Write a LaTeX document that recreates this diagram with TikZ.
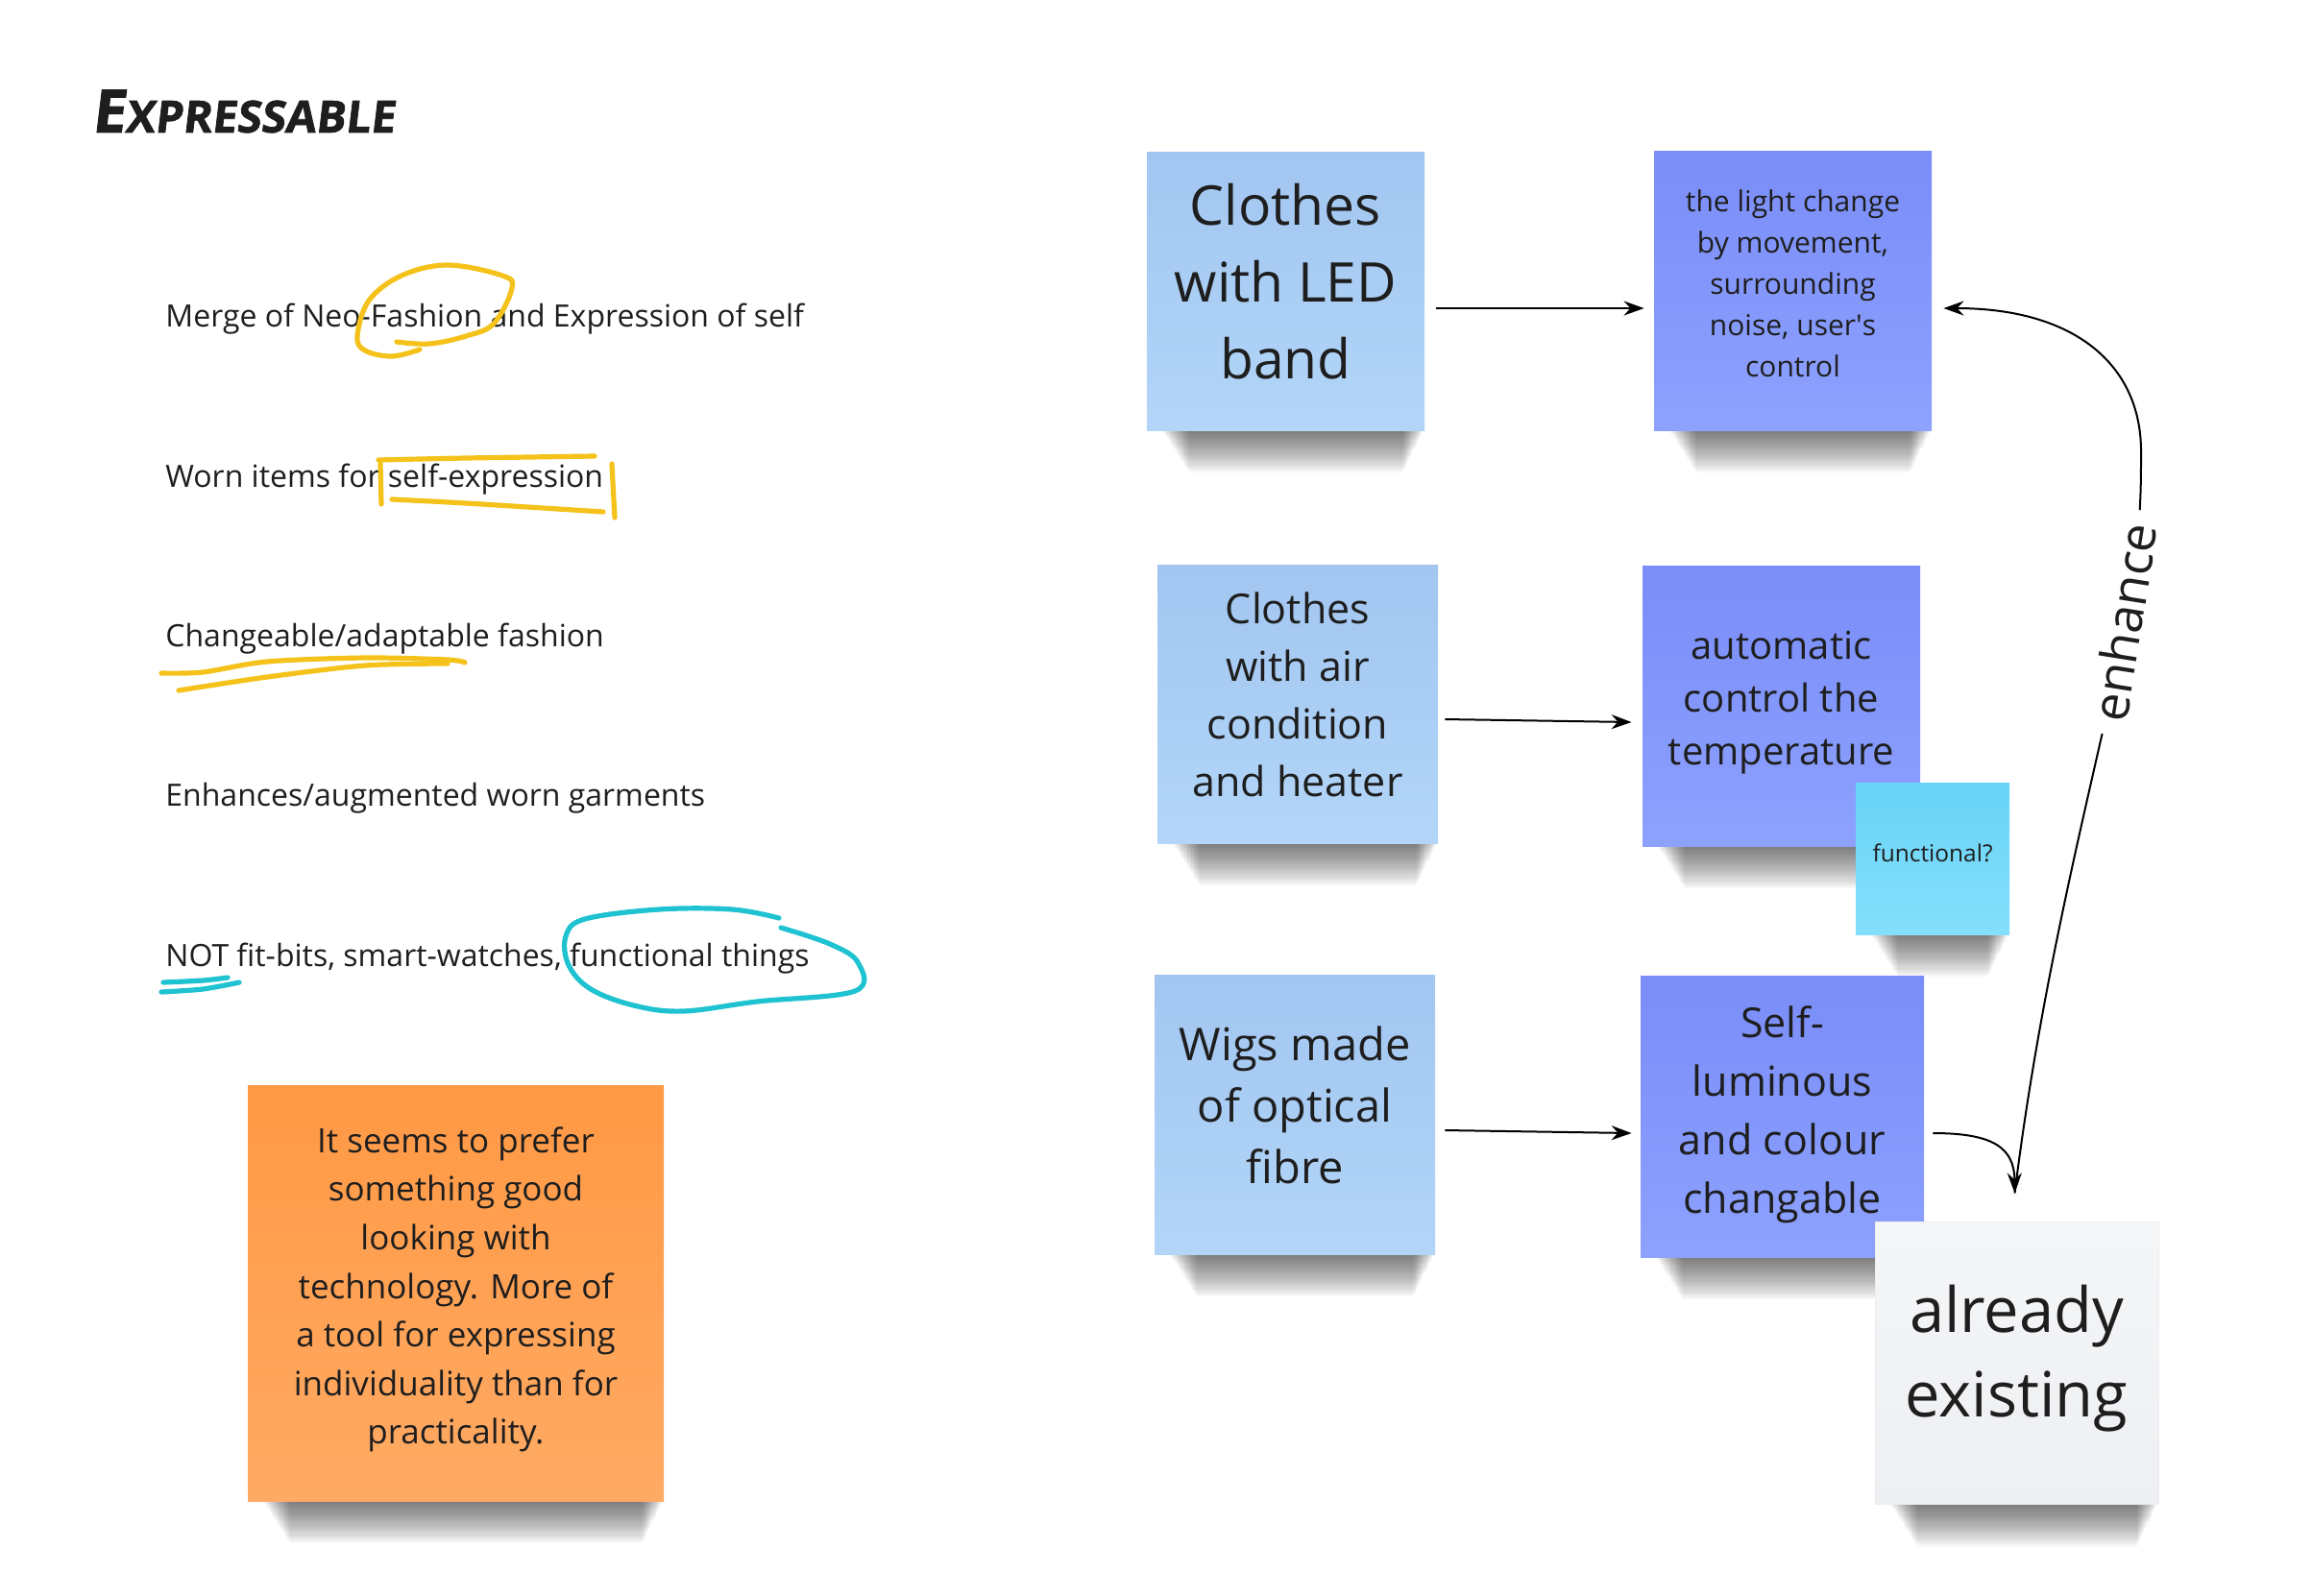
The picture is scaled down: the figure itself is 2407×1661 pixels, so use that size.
\documentclass[tikz,border=0pt]{standalone}
\usepackage{fontspec}
\setmainfont{Open Sans}
\newfontfamily\titlefont[FakeSlant=0.12,FakeBold=1.5]{Open Sans}
\usetikzlibrary{calc,arrows.meta}
\definecolor{ink}{HTML}{1E1E1E}
\definecolor{ltop}{HTML}{A2C6F0}
\definecolor{lbot}{HTML}{B2D5F8}
\definecolor{ptop}{HTML}{7A8DF8}
\definecolor{pbot}{HTML}{8DA1FE}
\definecolor{ctop}{HTML}{68D3F6}
\definecolor{cbot}{HTML}{84DFFB}
\definecolor{otop}{HTML}{FF9944}
\definecolor{obot}{HTML}{FFAA64}
\definecolor{gtop}{HTML}{F5F6F8}
\definecolor{gbot}{HTML}{EDEFF2}
\definecolor{hlyellow}{HTML}{F4C21A}
\definecolor{hlcyan}{HTML}{1EC2D0}
\pgfdeclarelayer{bg}
\pgfsetlayers{bg,main}
% note text: lines centred, lifted by half of #1
\newcommand{\nt}[2]{\raisebox{0pt}[\height][\dimexpr\depth+#1\relax]{\begin{tabular}{@{}c@{}}#2\end{tabular}}}
% soft shadow under a note
\newcommand{\noteshadow}[1]{%
  \foreach \k in {1,...,20}{%
    \fill[black, opacity=0.03] ($(#1.south west)+(16+1.4*\k,-6)$) rectangle ($(#1.south east)+(-1-1.1*\k,2.2*\k)$);
  }}
\tikzset{
  note/.style={rectangle, inner sep=0pt, text=ink},
  lightnote/.style={note, top color=ltop, bottom color=lbot},
  purplenote/.style={note, top color=ptop, bottom color=pbot},
  cyannote/.style={note, top color=ctop, bottom color=cbot},
  orangenote/.style={note, top color=otop, bottom color=obot},
  graynote/.style={note, top color=gtop, bottom color=gbot, draw=black!7, line width=0.5pt},
  item/.style={anchor=west, inner sep=0pt, text=ink, font=\fontsize{16pt}{19pt}\selectfont},
  arr/.style={draw=black, line width=1pt, -{Stealth[length=10.5pt,width=7.5pt]}},
  hly/.style={draw=hlyellow, line width=2.6pt, line cap=round, line join=round},
  hlc/.style={draw=hlcyan, line width=2.6pt, line cap=round, line join=round},
}
\begin{document}
\begin{tikzpicture}[x=0.5pt,y=-0.5pt]
\useasboundingbox (0,0) rectangle (2407,1661);
\begin{pgfonlayer}{bg}
\fill[white] (0,0) rectangle (2407,1661);
\end{pgfonlayer}

% title
\node[anchor=west, inner sep=0pt, text=ink] (title) at (95,116)
  {\titlefont\bfseries{\fontsize{31pt}{31pt}\selectfont E}{\fontsize{23pt}{23pt}\selectfont XPRESSABLE}};

% left list
\node[item] (l1) at (172,332) {Merge of Neo-Fashion and Expression of self};
\node[item] (l2) at (172,499) {Worn items for self-expression};
\node[item] (l3) at (172,665) {Changeable/adaptable fashion};
\node[item] (l4) at (172,831) {Enhances/augmented worn garments};
\node[item] (l5) at (172,998) {NOT fit-bits, smart-watches, functional things};

% highlighter marks
\draw[hly] plot[smooth, tension=0.6] coordinates {(413,356) (447,358) (485,350) (514,337) (533,300) (523,287) (466,276) (418,287) (384,313) (372,350) (380,365) (408,371) (437,364)};
\draw[hly] plot[smooth] coordinates {(394,479) (485,477) (619,475)};
\draw[hly] (396,483) -- (397,525);
\draw[hly] plot[smooth] coordinates {(408,520) (485,524) (628,533)};
\draw[hly] (637,483) -- (640,539);
\draw[hly] plot[smooth] coordinates {(168,701) (211,700) (278,689) (380,685) (466,687) (484,690)};
\draw[hly] plot[smooth] coordinates {(186,719) (278,705) (380,693) (466,691)};
\draw[hlc] plot[smooth] coordinates {(170,1023) (211,1021) (237,1018)};
\draw[hlc] plot[smooth] coordinates {(168,1033) (211,1030) (249,1023)};
\draw[hlc] plot[smooth, tension=0.6] coordinates {(811,956) (762,947) (686,947) (609,957) (589,975) (592,1005) (615,1030) (660,1047) (711,1053) (788,1043) (890,1032) (893,1002) (864,983) (813,966)};

% orange note
\node[orangenote, minimum width=216.5pt, minimum height=216.5pt,
  font=\fontsize{17.5pt}{25.3pt}\selectfont] (orange) at (474.5,1346.5)
  {\nt{4.5pt}{It seems to prefer\\something good\\looking with\\technology. More of\\a tool for expressing\\individuality than for\\practicality.}};

% sticky notes
\node[lightnote, minimum width=144.5pt, minimum height=145pt,
  font=\fontsize{28.5pt}{40pt}\selectfont] (n1) at (1338.5,303) {\nt{4.5pt}{Clothes\\with LED\\band}};
\node[purplenote, minimum width=144.5pt, minimum height=145.5pt,
  font=\fontsize{15pt}{21.5pt}\selectfont] (n2) at (1866.5,302.5)
  {\nt{5pt}{the light change\\by movement,\\surrounding\\noise, user\textquotesingle s\\control}};
\node[lightnote, minimum width=146pt, minimum height=145pt,
  font=\fontsize{21.5pt}{30pt}\selectfont] (n3) at (1351,733) {\nt{6pt}{Clothes\\with air\\condition\\and heater}};
\node[purplenote, minimum width=144.5pt, minimum height=146pt,
  font=\fontsize{20pt}{27.5pt}\selectfont] (n4) at (1854.5,735) {\nt{5pt}{automatic\\control the\\temperature}};
\node[cyannote, minimum width=80pt, minimum height=79pt,
  font=\fontsize{12.25pt}{15pt}\selectfont] (n5) at (2012,894) {\nt{3pt}{functional?}};
\node[lightnote, minimum width=146pt, minimum height=145.5pt,
  font=\fontsize{23.5pt}{32pt}\selectfont] (n6) at (1348,1160.5) {\nt{5pt}{Wigs made\\of optical\\fibre}};
\node[purplenote, minimum width=147.5pt, minimum height=146.5pt,
  font=\fontsize{21.5pt}{30.5pt}\selectfont] (n7) at (1855.5,1162.5) {\nt{3pt}{Self-\\luminous\\and colour\\changable}};
\node[graynote, minimum width=147.5pt, minimum height=147pt,
  font=\fontsize{32.5pt}{44pt}\selectfont] (n8) at (2099.5,1419) {\nt{5pt}{already\\existing}};

% shadows (behind everything)
\begin{pgfonlayer}{bg}
\noteshadow{orange}
\noteshadow{n1}\noteshadow{n2}\noteshadow{n3}\noteshadow{n4}
\noteshadow{n5}\noteshadow{n6}\noteshadow{n7}\noteshadow{n8}
\end{pgfonlayer}

% connectors
\draw[arr] ($(n1.east)+(12,18)$) -- ($(n2.west)+(-10,18.5)$);
\draw[arr] ($(n3.east)+(7,16)$) -- ($(n4.west)+(-11,17)$);
\draw[arr] ($(n6.east)+(10,16.5)$) -- ($(n7.west)+(-9,17.5)$);
\draw[arr] ($(n7.east)+(9,17.5)$) .. controls (2075,1180) and (2097,1195) .. ($(n8.north)+(-2,-29)$);
\draw[arr] ($(n8.north)+(-2,-29)$) .. controls (2125,1020) and (2175,830) .. (2205,690)
  .. controls (2229,570) and (2229,520) .. (2229,470)
  .. controls (2229,380) and (2160,321) .. ($(n2.east)+(12,18.5)$);
\node[fill=white, rotate=81, inner xsep=7pt, inner ysep=2pt, text=ink,
  font=\fontsize{26pt}{26pt}\selectfont] (enh) at (2211,648) {enhance};
\end{tikzpicture}
\end{document}
